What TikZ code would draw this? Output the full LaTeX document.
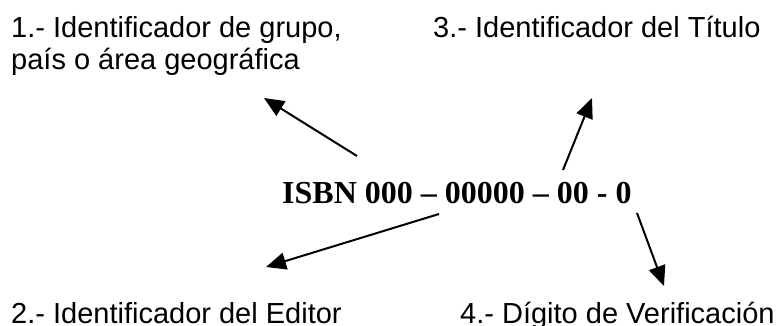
\documentclass[tikz,border=0pt]{standalone}
\usepackage{fontspec}
\newfontfamily\labelfont{Liberation Sans}
\newfontfamily\codefont{Liberation Serif}
\usetikzlibrary{arrows.meta}
\begin{document}
\begin{tikzpicture}[x=1pt,y=-1pt,
  lbl/.style={anchor=base west,inner sep=0pt,align=left,
    font=\labelfont\fontsize{29}{32}\selectfont},
  isbn/.style={anchor=base west,inner sep=0pt,
    font=\codefont\bfseries\fontsize{32}{36}\selectfont},
  pointer/.style={line width=2pt,-{Triangle[length=20pt,width=17pt]}}]
\clip (0,0) rectangle (780,326);

% labels of the four parts (base anchor = baseline of the last line)
\node[lbl] (grupo)  at (11,70)  {1.- Identificador de grupo,\\país o área geográfica};
\node[lbl] (titulo) at (433,38) {3.- Identificador del Título};
\node[lbl] (editor) at (11,323) {2.- Identificador del Editor};
\node[lbl] (digito) at (460,323) {4.- Dígito de Verificación};

% the number itself
\node[isbn] (num) at (282,204) {ISBN 000 – 00000 – 00 - 0};

% ends of the pointers
\coordinate (s1) at (357,156); \coordinate (t1) at (264,98);
\coordinate (s3) at (563,170); \coordinate (t3) at (592,98);
\coordinate (s2) at (439,214); \coordinate (t2) at (266,267);
\coordinate (s4) at (637,213); \coordinate (t4) at (664,286);

\draw[pointer] (s1) -- (t1);
\draw[pointer] (s3) -- (t3);
\draw[pointer] (s2) -- (t2);
\draw[pointer] (s4) -- (t4);
\end{tikzpicture}
\end{document}
